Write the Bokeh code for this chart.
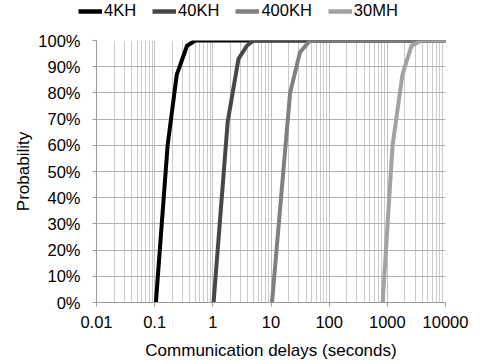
from bokeh.plotting import figure
from bokeh.layouts import column
from bokeh.models import (Legend, LegendItem, FixedTicker, NumeralTickFormatter,
                          CustomJSTickFormatter, Range1d)
from bokeh.embed import file_html
from bokeh.resources import INLINE

# ---- data ----
series_names = ["4KH", "40KH", "400KH", "30MH"]
delay_4kh = [0.105, 0.167, 0.24, 0.36, 0.5, 10000]
prob_4kh = [0.0, 0.60, 0.87, 0.98, 1.0, 1.0]
delay_40kh = [1.03, 1.8, 2.76, 3.85, 5.0, 10000]
prob_40kh = [0.0, 0.69, 0.93, 0.98, 1.0, 1.0]
delay_400kh = [10.4, 21.3, 31.5, 47.0, 10000]
prob_400kh = [0.0, 0.80, 0.955, 1.0, 1.0]
delay_30mh = [830, 1230, 1820, 2600, 3870, 10000]
prob_30mh = [0.0, 0.60, 0.87, 0.98, 1.0, 1.0]
x_ticks = [0.01, 0.1, 1, 10, 100, 1000, 10000]
y_ticks = [0.0, 0.1, 0.2, 0.3, 0.4, 0.5, 0.6, 0.7, 0.8, 0.9, 1.0]
colors = ["#000000", "#474747", "#808080", "#a2a2a2"]

FONT = "Liberation Sans"
LEG_H = 24

# ---- main chart ----
p = figure(width=481, height=362 - LEG_H, x_axis_type="log",
           x_range=(0.01, 10000), y_range=(0, 1.0),
           output_backend="svg", toolbar_location=None,
           min_border_left=96, min_border_right=36,
           min_border_top=40 - LEG_H, min_border_bottom=59)
p.outline_line_color = None
p.background_fill_color = "white"
p.frame_align = False

minor = []
for d in x_ticks[:-1]:
    for k in range(2, 10):
        minor.append(d * k)

p.xaxis.ticker = FixedTicker(ticks=x_ticks, minor_ticks=minor)
p.xaxis.formatter = CustomJSTickFormatter(code="return tick.toString();")
p.yaxis.ticker = FixedTicker(ticks=y_ticks)
p.yaxis.formatter = NumeralTickFormatter(format="0%")

for ax in (p.xaxis, p.yaxis):
    ax.axis_line_color = "#9a9a9a"
    ax.axis_line_width = 1
    ax.major_tick_line_color = "#9a9a9a"
    ax.major_tick_out = 4
    ax.major_tick_in = 0
    ax.minor_tick_line_color = None
    ax.major_label_text_font = FONT
    ax.major_label_text_font_size = "16.5px"
    ax.major_label_text_color = "black"
    ax.axis_label_text_font = FONT
    ax.axis_label_text_font_size = "17px"
    ax.axis_label_text_font_style = "normal"
    ax.axis_label_text_color = "black"

p.xaxis.axis_label = "Communication delays (seconds)"
p.yaxis.axis_label = "Probability"
p.xaxis.major_label_standoff = 9
p.yaxis.major_label_standoff = 12
p.xaxis.axis_label_standoff = 10
p.yaxis.axis_label_standoff = 2

p.xgrid.grid_line_color = "#c0c0c0"
p.xgrid.grid_line_width = 1
p.xgrid.minor_grid_line_color = "#cacaca"
p.xgrid.minor_grid_line_width = 1
p.ygrid.grid_line_color = "#b0b0b0"
p.ygrid.grid_line_width = 1

xs = [delay_4kh, delay_40kh, delay_400kh, delay_30mh]
ys = [prob_4kh, prob_40kh, prob_400kh, prob_30mh]
for x, y, c in zip(xs, ys, colors):
    p.line(x, y, line_color=c, line_width=4, line_join="round", line_cap="round")

# ---- legend strip above the chart ----
lg = figure(width=481, height=LEG_H, x_range=Range1d(0, 1), y_range=Range1d(0, 1),
            output_backend="svg", toolbar_location=None,
            x_axis_location=None, y_axis_location=None,
            min_border_left=0, min_border_right=0, min_border_top=0, min_border_bottom=0)
lg.outline_line_color = None
lg.xgrid.visible = False
lg.ygrid.visible = False
lg.frame_align = False
# legend-only renderers kept outside the visible range of the strip
leg_renderers = [lg.line([-2, -1], [-2, -1], line_color=c, line_width=4.5) for c in colors]
items = [LegendItem(label=n, renderers=[r]) for n, r in zip(series_names, leg_renderers)]
legend = Legend(items=items, orientation="horizontal", location=(78, 4),
                border_line_color=None, background_fill_alpha=0,
                padding=0, margin=0, spacing=16, label_standoff=2,
                glyph_width=24, glyph_height=16,
                label_text_font=FONT, label_text_font_size="16.5px",
                label_text_color="black")
lg.add_layout(legend, "center")

layout = column(lg, p, spacing=0)
open("out.html", "w").write(file_html(layout, INLINE))
